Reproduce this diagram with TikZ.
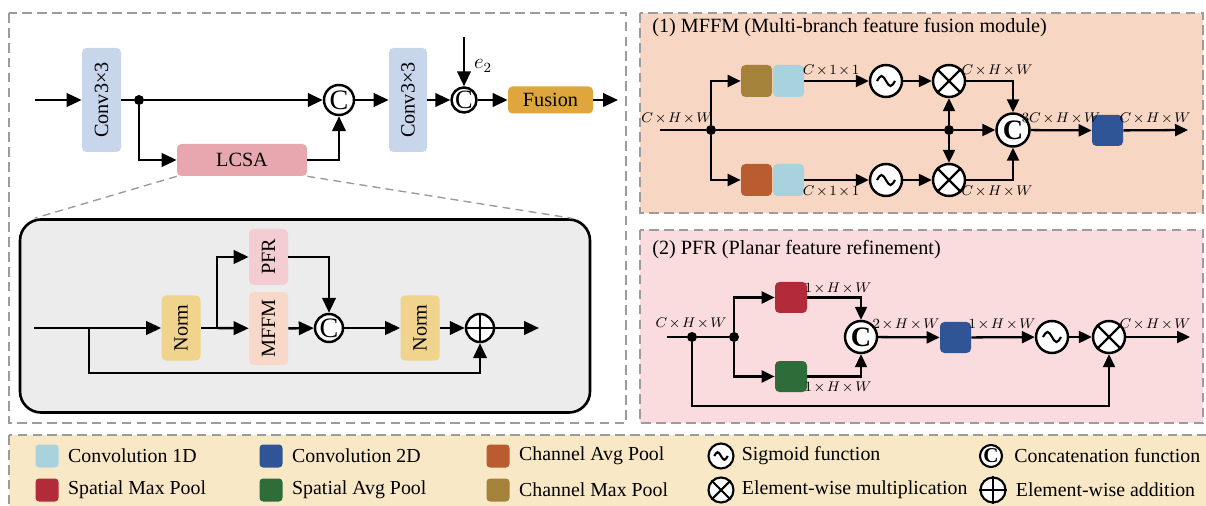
\documentclass[tikz,border=0pt]{standalone}
\usepackage{fontspec}
\setmainfont{Liberation Serif}
\usepackage{graphicx}
\usetikzlibrary{arrows.meta,calc,positioning}

\definecolor{convBlue}{HTML}{C8D6EC}
\definecolor{lcsaPink}{HTML}{E8A7AF}
\definecolor{fusionGold}{HTML}{DEA63C}
\definecolor{normYellow}{HTML}{F0D48E}
\definecolor{pfrPink}{HTML}{F4CDD3}
\definecolor{mffmPeach}{HTML}{F8D8C8}
\definecolor{innerGray}{HTML}{ECECEC}
\definecolor{mffmBg}{HTML}{F7D6C3}
\definecolor{pfrBg}{HTML}{FADBDE}
\definecolor{legBg}{HTML}{F9E8C5}
\definecolor{dashGray}{HTML}{9C9C9C}
\definecolor{chMax}{HTML}{A5823A}
\definecolor{chAvg}{HTML}{B95C30}
\definecolor{convOne}{HTML}{A8D3DE}
\definecolor{convTwo}{HTML}{2F5597}
\definecolor{spMax}{HTML}{B22B3A}
\definecolor{spAvg}{HTML}{2E6D3A}

\def\pxl{0.02cm}
\newcommand\sigwave[2][1]{\draw[line width=1.2pt,shift={(#2)},scale=#1] (-9,0) sin (-4.5,-5) cos (0,0) sin (4.5,5) cos (9,0);}
\newcommand\crossop[2][1.3pt]{\draw[line width=#1] (#2.north east) -- (#2.south west) (#2.north west) -- (#2.south east);}
\newcommand\plusop[2][1.3pt]{\draw[line width=#1] (#2.north) -- (#2.south) (#2.west) -- (#2.east);}
\newcommand\dims[1]{$\medmuskip=2mu #1$}

\begin{document}
\begin{tikzpicture}[x=0.02cm,y=-0.02cm,
  ln/.style={line width=1.4pt},
  arr/.style={line width=1.4pt,-{Triangle[length=3mm,width=2.7mm]}},
  arrs/.style={line width=1.3pt,-{Triangle[length=2.6mm,width=2.4mm]}},
  blk/.style={rounded corners=2.5pt,inner sep=0pt,font=\fontsize{11.5}{13}\selectfont},
  sz/.style 2 args={minimum width=#1*\pxl,minimum height=#2*\pxl},
  op/.style={circle,draw,fill=white,line width=1.4pt,inner sep=0pt,minimum size=#1*\pxl},
  jnt/.style={circle,fill,inner sep=0pt,minimum size=10*\pxl},
  panel/.style={draw=dashGray,dash pattern=on 5.5pt off 3pt,line width=1pt},
  zoomline/.style={draw=dashGray,dash pattern=on 4.5pt off 3pt,line width=0.8pt},
  dimlab/.style={font=\fontsize{8}{9}\selectfont,inner sep=0pt},
  ttl/.style={font=\fontsize{11.5}{13}\selectfont,anchor=west,inner sep=0pt},
  swatch/.style={rounded corners=2pt,sz={23}{23}},
  legtxt/.style={font=\fontsize{11.3}{13}\selectfont,anchor=west,inner sep=0pt}
]
\useasboundingbox (0,0) rectangle (1206,506);

% draw the panels
\draw[panel] (9,13) rectangle (626,423);
\draw[panel,fill=mffmBg] (640,13) rectangle (1203,213);
\draw[panel,fill=pfrBg] (640,230) rectangle (1203,423);
\draw[panel,fill=legBg] (9,435) rectangle (1215,515);

% draw the main branch
\coordinate (in1) at (35,100);
\node[blk,fill=convBlue,sz={39}{104}] (conv1) at (101.5,100) {\rotatebox{90}{Conv3×3}};
\node[jnt] (d1) at (139,100) {};
\node[blk,fill=lcsaPink,sz={130}{32}] (lcsa) at (242,160) {LCSA};
\node[op=30,font=\fontsize{16}{16}\selectfont] (c1) at (339,100) {C};
\node[blk,fill=convBlue,sz={38}{104}] (conv2) at (408,100) {\rotatebox{90}{Conv3×3}};
\node[op=25,font=\fontsize{15}{15}\selectfont] (c2) at (464,100) {C};
\coordinate (e2in) at (464,37);
\node[font=\fontsize{12}{12}\selectfont] (e2lab) at (483,66) {$e_2$};
\node[blk,fill=fusionGold,sz={85}{27}] (fusion) at (550.5,100) {Fusion};
\coordinate (out1) at (618,100);

\draw[arr] (in1) -- (conv1);
\draw[ln] (conv1) -- (d1);
\draw[arr] (d1) -- (c1);
\draw[arr] (d1) |- (lcsa.west);
\draw[arr] (lcsa.east) -| (c1.south);
\draw[arr] (c1) -- (conv2);
\draw[arr] (conv2) -- (c2);
\draw[arr] (e2in) -- (c2);
\draw[arr] (c2) -- (fusion);
\draw[arr] (fusion) -- (out1);

% draw the LCSA detail
\node[draw,line width=1.5pt,fill=innerGray,rounded corners=12pt,sz={570}{193}] (inner) at (305,316) {};
\draw[zoomline] (lcsa.south west) -- ($(inner.north west)+(16,0)$);
\draw[zoomline] (lcsa.south east) -- ($(inner.north east)+(-20,0)$);

\coordinate (in2) at (34,328);
\coordinate (sk) at (89,328);
\node[blk,fill=normYellow,sz={39}{65}] (norm1) at (181,328) {\rotatebox{90}{Norm}};
\coordinate (b1) at (217,328);
\node[blk,fill=pfrPink,sz={39}{56}] (pfr) at (268.5,257) {\rotatebox{90}{PFR}};
\node[blk,fill=mffmPeach,sz={39}{73}] (mffm) at (268.5,328.5) {\rotatebox{90}{MFFM}};
\node[op=28,font=\fontsize{16}{16}\selectfont] (c3) at (329,328) {C};
\node[blk,fill=normYellow,sz={39}{65}] (norm2) at (420,328) {\rotatebox{90}{Norm}};
\node[op=28] (plus) at (480,328) {};
\plusop{plus}
\coordinate (out2) at (539,328);

\draw[arr] (in2) -- (norm1);
\draw[ln] (norm1) -- (b1);
\draw[arr] (b1) -- (mffm);
\draw[arr] (b1) |- (pfr);
\draw[arr] (mffm) -- (c3);
\draw[arr] (pfr) -| (c3);
\draw[arr] (c3) -- (norm2);
\draw[arr] (norm2) -- (plus);
\draw[arr] (plus) -- (out2);
\draw[arr] (sk) -- ++(0,45) -| (plus.south);

% draw the MFFM panel
\node[ttl] (t1) at (652,28) {(1) MFFM (Multi-branch feature fusion module)};
\coordinate (min) at (660,130);
\node[jnt] (md1) at (711,130) {};
\node[blk,fill=chMax,sz={31}{32}] (cmax) at (756.5,81) {};
\node[blk,fill=convOne,sz={31}{32}] (conva) at (788.5,81) {};
\node[blk,fill=chAvg,sz={31}{32}] (cavg) at (756.5,180) {};
\node[blk,fill=convOne,sz={31}{32}] (convb) at (788.5,180) {};
\node[op=32] (sig1) at (886,81) {};
\node[op=32] (sig2) at (886,180) {};
\node[op=32] (mul1) at (949,81) {};
\node[op=32] (mul2) at (949,180) {};
\sigwave{sig1} \sigwave{sig2}
\crossop{mul1} \crossop{mul2}
\node[jnt] (md2) at (949,130) {};
\node[op=33,font=\bfseries\fontsize{16}{16}\selectfont] (cat1) at (1013,130) {C};
\node[blk,fill=convTwo,sz={31}{31}] (convc) at (1107.5,130.5) {};
\coordinate (mout) at (1188,130);

\draw[ln] (min) -- (md1) -- (md2);
\draw[arrs] (md2) -- (cat1);
\draw[arrs] (md1) |- (cmax);
\draw[arrs] (md1) |- (cavg);
\draw[arrs] (conva) -- (sig1);
\draw[arrs] (convb) -- (sig2);
\draw[arrs] (sig1) -- (mul1);
\draw[arrs] (sig2) -- (mul2);
\draw[arrs] (md2) -- (mul1);
\draw[arrs] (md2) -- (mul2);
\draw[arrs] (mul1) -| (cat1.north);
\draw[arrs] (mul2) -| (cat1.south);
\draw[arrs] (cat1) -- (convc);
\draw[arrs] (convc) -- (mout);

\node[dimlab] (ma) at (677,118) {\dims{C\times H\times W}};
\node[dimlab] (mb) at (831,70) {\dims{C\times 1\times 1}};
\node[dimlab] (mc) at (831,191) {\dims{C\times 1\times 1}};
\node[dimlab] (md) at (997,70) {\dims{C\times H\times W}};
\node[dimlab] (me) at (997,191) {\dims{C\times H\times W}};
\node[dimlab] (mf) at (1061,118) {\dims{3C\times H\times W}};
\node[dimlab] (mg) at (1155,118) {\dims{C\times H\times W}};

% draw the PFR panel
\node[ttl] (t2) at (652,250) {(2) PFR (Planar feature refinement)};
\coordinate (pin) at (667,337);
\node[jnt] (pd1) at (692,337) {};
\node[jnt] (pd2) at (734,337) {};
\node[blk,fill=spMax,sz={32}{31}] (smax) at (791,297.5) {};
\node[blk,fill=spAvg,sz={32}{31}] (savg) at (791,376.5) {};
\node[op=32,font=\bfseries\fontsize{16}{16}\selectfont] (cat2) at (861,337) {C};
\node[blk,fill=convTwo,sz={31}{31}] (convd) at (955.5,337.5) {};
\node[op=32] (sig3) at (1052,337) {};
\sigwave{sig3}
\node[op=32] (mul3) at (1109,337) {};
\crossop{mul3}
\coordinate (pout) at (1190,337);

\draw[ln] (pin) -- (pd1) -- (pd2);
\draw[arrs] (pd2) |- (smax);
\draw[arrs] (pd2) |- (savg);
\draw[arrs] (smax) -| (cat2.north);
\draw[arrs] (savg) -| (cat2.south);
\draw[arrs] (cat2) -- (convd);
\draw[arrs] (convd) -- (sig3);
\draw[arrs] (sig3) -- (mul3);
\draw[arrs] (mul3) -- (pout);
\draw[arrs] (pd1) -- ++(0,69) -| (mul3.south);

\node[dimlab] (pa) at (691,323) {\dims{C\times H\times W}};
\node[dimlab] (pb) at (838,288) {\dims{1\times H\times W}};
\node[dimlab] (pc) at (838,387) {\dims{1\times H\times W}};
\node[dimlab] (pe) at (906,324) {\dims{2\times H\times W}};
\node[dimlab] (pf) at (1002,324) {\dims{1\times H\times W}};
\node[dimlab] (pg) at (1155,324) {\dims{C\times H\times W}};

% draw the legend
\foreach \col/\txt/\x/\y [count=\i] in {convOne/Convolution 1D/47/456, convTwo/Convolution 2D/271/456, chAvg/Channel Avg Pool/498/456, spMax/Spatial Max Pool/47/490, spAvg/Spatial Avg Pool/271/490, chMax/Channel Max Pool/498/490}
{
  \node[swatch,fill=\col] (sw\i) at (\x,\y) {};
  \node[legtxt,right=1.8mm of sw\i] (lt\i) {\txt};
}
\node[op=25,line width=1.2pt] (lsig) at (721,456) {};
\sigwave[0.75]{lsig}
\node[legtxt,right=1.4mm of lsig] (ltsig) {Sigmoid function};
\node[op=22,line width=1.2pt,font=\bfseries\fontsize{12}{12}\selectfont] (lcat) at (991,456) {C};
\node[legtxt,right=2.2mm of lcat] (ltcat) {Concatenation function};
\node[op=25,line width=1.2pt] (lmul) at (721,490) {};
\crossop[1.2pt]{lmul}
\node[legtxt,right=1.4mm of lmul] (ltmul) {Element-wise multiplication};
\node[op=25,line width=1.2pt] (lplus) at (993,490) {};
\plusop[1.2pt]{lplus}
\node[legtxt,right=1.8mm of lplus] (ltplus) {Element-wise addition};

\end{tikzpicture}
\end{document}
